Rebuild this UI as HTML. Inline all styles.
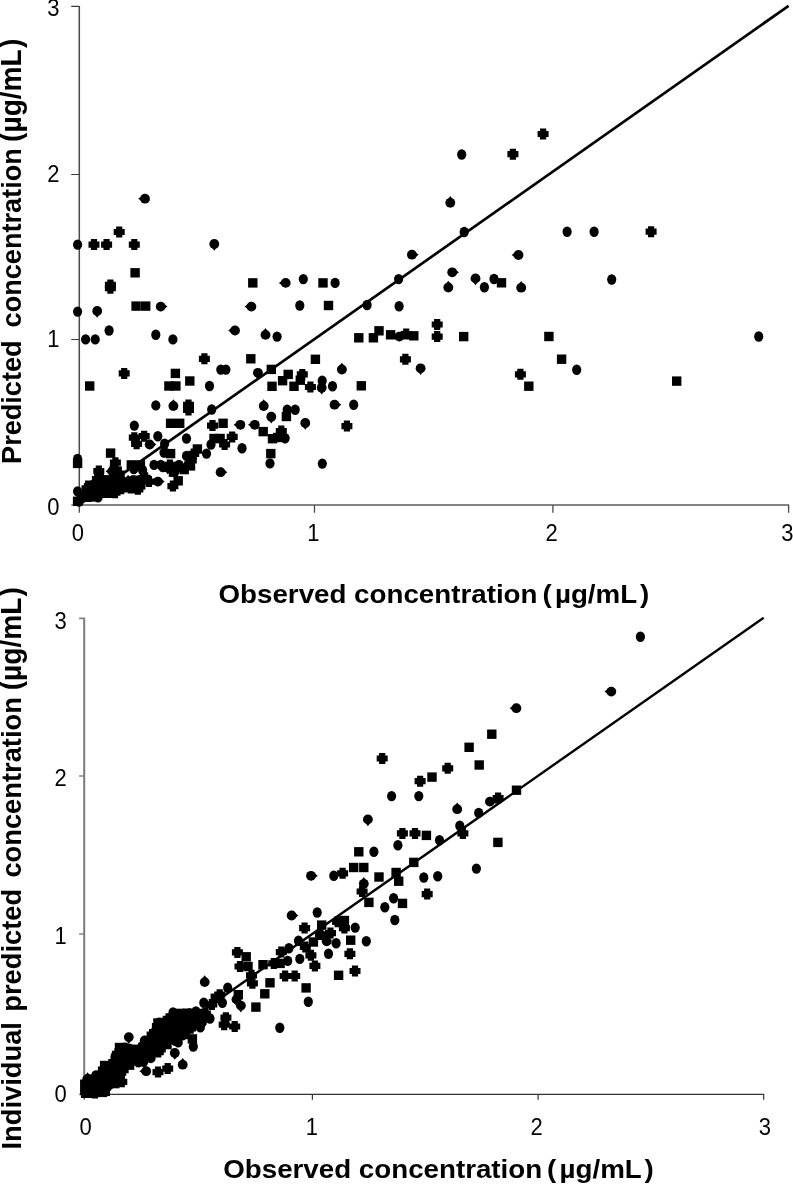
<!DOCTYPE html>
<html><head><meta charset="utf-8"><title>Predicted vs observed concentration</title>
<style>
html,body{margin:0;padding:0;background:#fff;}
body{width:793px;height:1185px;overflow:hidden;}
svg{display:block;will-change:transform;}
text{font-family:"Liberation Sans",sans-serif;fill:#000;}
.tk{font-size:22px;}
.lb{font-weight:bold;}
path{fill:none;}
.mk path{fill:#000;}
</style></head><body>
<svg width="793" height="1185" viewBox="0 0 793 1185">
<rect width="793" height="1185" fill="#fff"/>

<path stroke="#4a4a4a" stroke-width="1.5" d="M79.3 5.9V505.0"/>
<path stroke="#858585" stroke-width="2.0" d="M79.3 505.0H789.1"/>
<path stroke="#3a3a3a" stroke-width="1.1" d="M71.2 505.0H79.3M71.2 339.5H79.3M71.2 174.5H79.3M71.2 6.4H79.3"/>
<path stroke="#4a4a4a" stroke-width="1.3" d="M79.3 505.0V512.7M314.5 505.0V512.7M552.9 505.0V512.7M788.6 505.0V512.7"/>
<text class="tk" transform="translate(59.4,515.2) scale(1,1.06)" text-anchor="end">0</text>
<text class="tk" transform="translate(59.4,347.2) scale(1,1.06)" text-anchor="end">1</text>
<text class="tk" transform="translate(59.4,182.1) scale(1,1.06)" text-anchor="end">2</text>
<text class="tk" transform="translate(59.4,16.4) scale(1,1.06)" text-anchor="end">3</text>
<text class="tk" transform="translate(77.9,540.8) scale(1,1.06)" text-anchor="middle">0</text>
<text class="tk" transform="translate(313.4,540.8) scale(1,1.06)" text-anchor="middle">1</text>
<text class="tk" transform="translate(551.6,540.8) scale(1,1.06)" text-anchor="middle">2</text>
<text class="tk" transform="translate(787.4,540.8) scale(1,1.06)" text-anchor="middle">3</text>
<path stroke="#000" stroke-width="2.7" d="M79.3 504.4L788.6 5.800000000000001"/>
<g class="mk" fill="#000">
<ellipse cx="77.6" cy="244.6" rx="4.6" ry="5.2"/>
<path d="M90.9 239.1h6.2v2.4h2.4v6.2h-2.4v2.4h-6.2v-2.4h-2.4v-6.2h2.4Z"/>
<path d="M103.5 239.1h6.2v2.4h2.4v6.2h-2.4v2.4h-6.2v-2.4h-2.4v-6.2h2.4Z"/>
<path d="M116.1 226.5h6.2v2.4h2.4v6.2h-2.4v2.4h-6.2v-2.4h-2.4v-6.2h2.4Z"/>
<path d="M131.2 239.1h6.2v2.4h2.4v6.2h-2.4v2.4h-6.2v-2.4h-2.4v-6.2h2.4Z"/>
<circle cx="145.0" cy="198.7" r="4.9"/><path d="M138.2 198.7L145.0 193.8L145.0 203.6Z"/>
<circle cx="214.3" cy="244.0" r="4.9"/><path d="M214.3 250.8L209.4 244.0L219.2 244.0Z"/>
<rect x="130.4" y="268.1" width="9.4" height="9.4"/>
<path d="M107.3 279.4h6.2v2.4h2.4v6.2h-2.4v2.4h-6.2v-2.4h-2.4v-6.2h2.4Z"/>
<path d="M107.3 282.7h6.2v2.4h2.4v6.2h-2.4v2.4h-6.2v-2.4h-2.4v-6.2h2.4Z"/>
<rect x="248.1" y="278.2" width="9.4" height="9.4"/>
<circle cx="285.7" cy="282.9" r="4.9"/><path d="M278.9 282.9L285.7 278.0L285.7 287.8Z"/>
<ellipse cx="303.3" cy="279.1" rx="4.6" ry="5.2"/>
<rect x="318.3" y="278.2" width="9.4" height="9.4"/>
<ellipse cx="335.1" cy="282.9" rx="4.6" ry="5.2"/>
<circle cx="411.9" cy="254.7" r="4.9"/><path d="M418.7 254.7L411.9 259.6L411.9 249.8Z"/>
<ellipse cx="398.6" cy="279.1" rx="4.6" ry="5.2"/>
<ellipse cx="461.7" cy="154.5" rx="4.6" ry="5.2"/>
<circle cx="450.3" cy="202.8" r="4.9"/><path d="M450.3 196.0L455.2 202.8L445.4 202.8Z"/>
<ellipse cx="464.2" cy="232.0" rx="4.6" ry="5.2"/>
<circle cx="452.2" cy="272.3" r="4.9"/><path d="M459.0 272.3L452.2 277.2L452.2 267.4Z"/>
<circle cx="448.3" cy="287.5" r="4.9"/><path d="M448.3 280.7L453.2 287.5L443.4 287.5Z"/>
<path d="M509.8 148.7h6.2v2.4h2.4v6.2h-2.4v2.4h-6.2v-2.4h-2.4v-6.2h2.4Z"/>
<path d="M540.0 128.5h6.2v2.4h2.4v6.2h-2.4v2.4h-6.2v-2.4h-2.4v-6.2h2.4Z"/>
<ellipse cx="567.1" cy="231.7" rx="4.6" ry="5.2"/>
<ellipse cx="594.1" cy="231.7" rx="4.6" ry="5.2"/>
<path d="M648.0 226.2h6.2v2.4h2.4v6.2h-2.4v2.4h-6.2v-2.4h-2.4v-6.2h2.4Z"/>
<circle cx="518.5" cy="255.0" r="4.9"/><path d="M511.7 255.0L518.5 250.1L518.5 259.9Z"/>
<circle cx="475.5" cy="278.4" r="4.9"/><path d="M475.5 285.2L470.6 278.4L480.4 278.4Z"/>
<ellipse cx="484.4" cy="287.3" rx="4.6" ry="5.2"/>
<ellipse cx="494.0" cy="279.0" rx="4.6" ry="5.2"/>
<rect x="496.8" y="278.1" width="9.4" height="9.4"/>
<circle cx="521.2" cy="287.7" r="4.9"/><path d="M521.2 280.9L526.1 287.7L516.3 287.7Z"/>
<ellipse cx="611.7" cy="279.5" rx="4.6" ry="5.2"/>
<rect x="544.2" y="331.8" width="9.4" height="9.4"/>
<rect x="556.9" y="354.5" width="9.4" height="9.4"/>
<ellipse cx="576.7" cy="369.8" rx="4.6" ry="5.2"/>
<path d="M517.3 368.8h6.2v2.4h2.4v6.2h-2.4v2.4h-6.2v-2.4h-2.4v-6.2h2.4Z"/>
<rect x="524.1" y="381.5" width="9.4" height="9.4"/>
<ellipse cx="758.7" cy="336.5" rx="4.6" ry="5.2"/>
<rect x="672.0" y="376.4" width="9.4" height="9.4"/>
<ellipse cx="299.8" cy="305.5" rx="4.6" ry="5.2"/>
<rect x="323.8" y="300.8" width="9.4" height="9.4"/>
<ellipse cx="367.1" cy="305.0" rx="4.6" ry="5.2"/>
<ellipse cx="399.1" cy="306.3" rx="4.6" ry="5.2"/>
<ellipse cx="277.1" cy="336.6" rx="4.6" ry="5.2"/>
<rect x="354.1" y="333.1" width="9.4" height="9.4"/>
<rect x="368.7" y="333.1" width="9.4" height="9.4"/>
<rect x="374.3" y="326.1" width="9.4" height="9.4"/>
<rect x="385.9" y="330.1" width="9.4" height="9.4"/>
<circle cx="399.3" cy="336.6" r="4.9"/><path d="M406.1 336.6L399.3 341.5L399.3 331.7Z"/>
<path d="M403.1 328.5h6.2v2.4h2.4v6.2h-2.4v2.4h-6.2v-2.4h-2.4v-6.2h2.4Z"/>
<rect x="409.1" y="331.1" width="9.4" height="9.4"/>
<path d="M434.1 319.0h6.2v2.4h2.4v6.2h-2.4v2.4h-6.2v-2.4h-2.4v-6.2h2.4Z"/>
<path d="M434.1 331.1h6.2v2.4h2.4v6.2h-2.4v2.4h-6.2v-2.4h-2.4v-6.2h2.4Z"/>
<rect x="459.0" y="331.9" width="9.4" height="9.4"/>
<rect x="310.7" y="354.6" width="9.4" height="9.4"/>
<circle cx="341.9" cy="369.5" r="4.9"/><path d="M341.9 362.7L346.8 369.5L337.0 369.5Z"/>
<path d="M402.3 353.8h6.2v2.4h2.4v6.2h-2.4v2.4h-6.2v-2.4h-2.4v-6.2h2.4Z"/>
<circle cx="420.6" cy="368.3" r="4.9"/><path d="M420.6 375.1L415.7 368.3L425.5 368.3Z"/>
<rect x="266.6" y="364.7" width="9.4" height="9.4"/>
<rect x="283.5" y="369.7" width="9.4" height="9.4"/>
<path d="M299.2 368.9h6.2v2.4h2.4v6.2h-2.4v2.4h-6.2v-2.4h-2.4v-6.2h2.4Z"/>
<rect x="277.9" y="376.0" width="9.4" height="9.4"/>
<rect x="295.6" y="375.5" width="9.4" height="9.4"/>
<ellipse cx="322.2" cy="380.7" rx="4.6" ry="5.2"/>
<rect x="267.3" y="381.6" width="9.4" height="9.4"/>
<rect x="289.3" y="381.6" width="9.4" height="9.4"/>
<path d="M307.3 381.5h6.2v2.4h2.4v6.2h-2.4v2.4h-6.2v-2.4h-2.4v-6.2h2.4Z"/>
<circle cx="321.7" cy="387.7" r="4.9"/><path d="M321.7 394.5L316.8 387.7L326.6 387.7Z"/>
<ellipse cx="332.5" cy="386.3" rx="4.6" ry="5.2"/>
<rect x="356.6" y="381.1" width="9.4" height="9.4"/>
<circle cx="334.5" cy="404.7" r="4.9"/><path d="M341.3 404.7L334.5 409.6L334.5 399.8Z"/>
<ellipse cx="353.7" cy="404.7" rx="4.6" ry="5.2"/>
<ellipse cx="287.2" cy="409.7" rx="4.6" ry="5.2"/>
<ellipse cx="295.2" cy="409.7" rx="4.6" ry="5.2"/>
<rect x="281.7" y="411.8" width="9.4" height="9.4"/>
<circle cx="271.3" cy="416.7" r="4.9"/><path d="M271.3 423.5L266.4 416.7L276.2 416.7Z"/>
<circle cx="305.3" cy="423.0" r="4.9"/><path d="M305.3 429.8L300.4 423.0L310.2 423.0Z"/>
<path d="M343.8 420.6h6.2v2.4h2.4v6.2h-2.4v2.4h-6.2v-2.4h-2.4v-6.2h2.4Z"/>
<path d="M278.2 425.6h6.2v2.4h2.4v6.2h-2.4v2.4h-6.2v-2.4h-2.4v-6.2h2.4Z"/>
<rect x="272.9" y="432.8" width="9.4" height="9.4"/>
<ellipse cx="285.1" cy="438.2" rx="4.6" ry="5.2"/>
<rect x="267.8" y="434.0" width="9.4" height="9.4"/>
<ellipse cx="77.6" cy="311.6" rx="4.6" ry="5.2"/>
<circle cx="97.2" cy="311.0" r="4.9"/><path d="M97.2 317.8L92.3 311.0L102.1 311.0Z"/>
<rect x="131.4" y="301.4" width="9.4" height="9.4"/>
<rect x="141.0" y="301.4" width="9.4" height="9.4"/>
<circle cx="160.7" cy="306.6" r="4.9"/><path d="M167.5 306.6L160.7 311.5L160.7 301.7Z"/>
<circle cx="251.4" cy="306.6" r="4.9"/><path d="M244.6 306.6L251.4 301.7L251.4 311.5Z"/>
<ellipse cx="109.1" cy="330.5" rx="4.6" ry="5.2"/>
<ellipse cx="85.6" cy="339.4" rx="4.6" ry="5.2"/>
<ellipse cx="95.2" cy="339.4" rx="4.6" ry="5.2"/>
<ellipse cx="155.8" cy="334.8" rx="4.6" ry="5.2"/>
<ellipse cx="172.9" cy="339.4" rx="4.6" ry="5.2"/>
<circle cx="235.0" cy="330.5" r="4.9"/><path d="M228.2 330.5L235.0 325.6L235.0 335.4Z"/>
<circle cx="265.5" cy="334.9" r="4.9"/><path d="M265.5 328.1L270.4 334.9L260.6 334.9Z"/>
<path d="M201.3 353.3h6.2v2.4h2.4v6.2h-2.4v2.4h-6.2v-2.4h-2.4v-6.2h2.4Z"/>
<rect x="246.1" y="354.1" width="9.4" height="9.4"/>
<ellipse cx="220.8" cy="369.6" rx="4.6" ry="5.2"/>
<ellipse cx="225.9" cy="369.6" rx="4.6" ry="5.2"/>
<path d="M121.1 367.9h6.2v2.4h2.4v6.2h-2.4v2.4h-6.2v-2.4h-2.4v-6.2h2.4Z"/>
<rect x="170.7" y="368.7" width="9.4" height="9.4"/>
<circle cx="257.9" cy="372.8" r="4.9"/><path d="M257.9 379.6L253.0 372.8L262.8 372.8Z"/>
<rect x="85.0" y="381.3" width="9.4" height="9.4"/>
<rect x="164.2" y="381.3" width="9.4" height="9.4"/>
<rect x="171.2" y="381.3" width="9.4" height="9.4"/>
<rect x="185.1" y="376.3" width="9.4" height="9.4"/>
<ellipse cx="209.5" cy="386.0" rx="4.6" ry="5.2"/>
<ellipse cx="155.8" cy="405.4" rx="4.6" ry="5.2"/>
<circle cx="173.4" cy="406.0" r="4.9"/><path d="M173.4 399.2L178.3 406.0L168.5 406.0Z"/>
<path d="M185.4 399.4h6.2v2.4h2.4v6.2h-2.4v2.4h-6.2v-2.4h-2.4v-6.2h2.4Z"/>
<path d="M185.4 404.5h6.2v2.4h2.4v6.2h-2.4v2.4h-6.2v-2.4h-2.4v-6.2h2.4Z"/>
<ellipse cx="211.7" cy="409.5" rx="4.6" ry="5.2"/>
<circle cx="263.7" cy="406.0" r="4.9"/><path d="M263.7 399.2L268.6 406.0L258.8 406.0Z"/>
<ellipse cx="77.6" cy="458.9" rx="4.6" ry="5.2"/>
<rect x="72.9" y="458.7" width="9.4" height="9.4"/>
<ellipse cx="77.6" cy="491.4" rx="4.6" ry="5.2"/>
<rect x="72.9" y="496.6" width="9.4" height="9.4"/>
<ellipse cx="134.3" cy="425.6" rx="4.6" ry="5.2"/>
<rect x="165.9" y="418.6" width="9.4" height="9.4"/>
<rect x="175.0" y="418.6" width="9.4" height="9.4"/>
<path d="M131.2 432.2h6.2v2.4h2.4v6.2h-2.4v2.4h-6.2v-2.4h-2.4v-6.2h2.4Z"/>
<path d="M141.1 430.7h6.2v2.4h2.4v6.2h-2.4v2.4h-6.2v-2.4h-2.4v-6.2h2.4Z"/>
<ellipse cx="157.8" cy="436.2" rx="4.6" ry="5.2"/>
<path d="M133.5 438.3h6.2v2.4h2.4v6.2h-2.4v2.4h-6.2v-2.4h-2.4v-6.2h2.4Z"/>
<circle cx="149.6" cy="444.5" r="4.9"/><path d="M156.4 444.5L149.6 449.4L149.6 439.6Z"/>
<ellipse cx="164.6" cy="443.8" rx="4.6" ry="5.2"/>
<ellipse cx="186.5" cy="438.5" rx="4.6" ry="5.2"/>
<rect x="105.9" y="448.4" width="9.4" height="9.4"/>
<ellipse cx="164.6" cy="452.1" rx="4.6" ry="5.2"/>
<rect x="165.9" y="448.9" width="9.4" height="9.4"/>
<ellipse cx="186.5" cy="455.9" rx="4.6" ry="5.2"/>
<path d="M112.3 457.2h6.2v2.4h2.4v6.2h-2.4v2.4h-6.2v-2.4h-2.4v-6.2h2.4Z"/>
<rect x="126.6" y="460.2" width="9.4" height="9.4"/>
<rect x="135.7" y="460.2" width="9.4" height="9.4"/>
<ellipse cx="154.0" cy="464.9" rx="4.6" ry="5.2"/>
<ellipse cx="160.8" cy="464.9" rx="4.6" ry="5.2"/>
<path d="M166.8 459.4h6.2v2.4h2.4v6.2h-2.4v2.4h-6.2v-2.4h-2.4v-6.2h2.4Z"/>
<ellipse cx="179.0" cy="464.9" rx="4.6" ry="5.2"/>
<ellipse cx="188.0" cy="464.9" rx="4.6" ry="5.2"/>
<path d="M95.7 465.5h6.2v2.4h2.4v6.2h-2.4v2.4h-6.2v-2.4h-2.4v-6.2h2.4Z"/>
<circle cx="174.4" cy="471.9" r="4.9"/><path d="M174.4 478.7L169.5 471.9L179.3 471.9Z"/>
<circle cx="157.9" cy="481.6" r="4.9"/><path d="M164.7 481.6L157.9 486.5L157.9 476.7Z"/>
<rect x="173.5" y="476.1" width="9.4" height="9.4"/>
<path d="M169.8 480.6h6.2v2.4h2.4v6.2h-2.4v2.4h-6.2v-2.4h-2.4v-6.2h2.4Z"/>
<path d="M209.4 420.1h6.2v2.4h2.4v6.2h-2.4v2.4h-6.2v-2.4h-2.4v-6.2h2.4Z"/>
<rect x="218.4" y="418.6" width="9.4" height="9.4"/>
<circle cx="240.4" cy="424.8" r="4.9"/><path d="M233.6 424.8L240.4 419.9L240.4 429.7Z"/>
<circle cx="254.8" cy="424.8" r="4.9"/><path d="M248.0 424.8L254.8 419.9L254.8 429.7Z"/>
<rect x="209.3" y="433.8" width="9.4" height="9.4"/>
<rect x="215.4" y="433.8" width="9.4" height="9.4"/>
<path d="M229.1 431.4h6.2v2.4h2.4v6.2h-2.4v2.4h-6.2v-2.4h-2.4v-6.2h2.4Z"/>
<rect x="258.5" y="426.9" width="9.4" height="9.4"/>
<ellipse cx="211.0" cy="444.5" rx="4.6" ry="5.2"/>
<path d="M221.5 439.0h6.2v2.4h2.4v6.2h-2.4v2.4h-6.2v-2.4h-2.4v-6.2h2.4Z"/>
<ellipse cx="242.0" cy="448.3" rx="4.6" ry="5.2"/>
<rect x="192.7" y="444.3" width="9.4" height="9.4"/>
<ellipse cx="206.5" cy="453.6" rx="4.6" ry="5.2"/>
<path d="M188.2 454.9h6.2v2.4h2.4v6.2h-2.4v2.4h-6.2v-2.4h-2.4v-6.2h2.4Z"/>
<rect x="266.1" y="448.9" width="9.4" height="9.4"/>
<ellipse cx="270.0" cy="463.4" rx="4.6" ry="5.2"/>
<circle cx="220.6" cy="472.2" r="4.9"/><path d="M227.4 472.2L220.6 477.1L220.6 467.3Z"/>
<ellipse cx="322.3" cy="463.6" rx="4.6" ry="5.2"/>
<ellipse cx="164.0" cy="452.6" rx="4.6" ry="5.2"/>
<circle cx="167.8" cy="467.8" r="4.9"/><path d="M167.8 474.6L162.9 467.8L172.7 467.8Z"/>
<ellipse cx="162.8" cy="467.1" rx="4.6" ry="5.2"/>
<rect x="168.8" y="467.5" width="9.4" height="9.4"/>
<ellipse cx="180.4" cy="467.1" rx="4.6" ry="5.2"/>
<rect x="179.5" y="464.9" width="9.4" height="9.4"/>
<rect x="185.8" y="461.2" width="9.4" height="9.4"/>
<path d="M190.6 448.4h6.2v2.4h2.4v6.2h-2.4v2.4h-6.2v-2.4h-2.4v-6.2h2.4Z"/>
<path d="M145.8 476.1h6.2v2.4h2.4v6.2h-2.4v2.4h-6.2v-2.4h-2.4v-6.2h2.4Z"/>
<ellipse cx="133.8" cy="469.0" rx="4.6" ry="5.2"/>
<ellipse cx="142.6" cy="470.3" rx="4.6" ry="5.2"/>
<path d="M142.0 472.3h6.2v2.4h2.4v6.2h-2.4v2.4h-6.2v-2.4h-2.4v-6.2h2.4Z"/>
<ellipse cx="114.0" cy="467.7" rx="4.6" ry="5.2"/>
<circle cx="112.3" cy="471.3" r="4.9"/><path d="M105.5 471.3L112.3 466.4L112.3 476.2Z"/>
<rect x="112.5" y="466.4" width="9.4" height="9.4"/>
<circle cx="98.9" cy="474.1" r="4.9"/><path d="M98.9 480.9L94.0 474.1L103.8 474.1Z"/>
<ellipse cx="114.6" cy="476.2" rx="4.6" ry="5.2"/>
<rect x="115.4" y="470.5" width="9.4" height="9.4"/>
<path d="M94.3 473.7h6.2v2.4h2.4v6.2h-2.4v2.4h-6.2v-2.4h-2.4v-6.2h2.4Z"/>
<ellipse cx="101.3" cy="479.1" rx="4.6" ry="5.2"/>
<rect x="103.4" y="475.1" width="9.4" height="9.4"/>
<rect x="108.5" y="475.8" width="9.4" height="9.4"/>
<rect x="113.0" y="476.2" width="9.4" height="9.4"/>
<circle cx="121.3" cy="480.4" r="4.9"/><path d="M128.1 480.4L121.3 485.3L121.3 475.5Z"/>
<circle cx="128.1" cy="481.5" r="4.9"/><path d="M128.1 474.7L133.0 481.5L123.2 481.5Z"/>
<ellipse cx="132.9" cy="480.1" rx="4.6" ry="5.2"/>
<path d="M133.5 475.5h6.2v2.4h2.4v6.2h-2.4v2.4h-6.2v-2.4h-2.4v-6.2h2.4Z"/>
<circle cx="140.9" cy="479.7" r="4.9"/><path d="M147.7 479.7L140.9 484.6L140.9 474.8Z"/>
<rect x="85.0" y="480.5" width="9.4" height="9.4"/>
<circle cx="94.3" cy="484.0" r="4.9"/><path d="M94.3 490.8L89.4 484.0L99.2 484.0Z"/>
<ellipse cx="100.4" cy="484.4" rx="4.6" ry="5.2"/>
<circle cx="104.7" cy="485.5" r="4.9"/><path d="M104.7 478.7L109.6 485.5L99.8 485.5Z"/>
<path d="M106.4 478.2h6.2v2.4h2.4v6.2h-2.4v2.4h-6.2v-2.4h-2.4v-6.2h2.4Z"/>
<ellipse cx="113.9" cy="484.7" rx="4.6" ry="5.2"/>
<circle cx="120.3" cy="483.8" r="4.9"/><path d="M120.3 490.6L115.4 483.8L125.2 483.8Z"/>
<circle cx="123.9" cy="484.9" r="4.9"/><path d="M130.7 484.9L123.9 489.8L123.9 480.0Z"/>
<circle cx="128.8" cy="484.2" r="4.9"/><path d="M128.8 491.0L123.9 484.2L133.7 484.2Z"/>
<rect x="130.3" y="479.0" width="9.4" height="9.4"/>
<rect x="136.0" y="480.2" width="9.4" height="9.4"/>
<path d="M83.9 482.9h6.2v2.4h2.4v6.2h-2.4v2.4h-6.2v-2.4h-2.4v-6.2h2.4Z"/>
<ellipse cx="92.1" cy="488.3" rx="4.6" ry="5.2"/>
<rect x="92.3" y="484.7" width="9.4" height="9.4"/>
<circle cx="101.7" cy="488.9" r="4.9"/><path d="M108.5 488.9L101.7 493.8L101.7 484.0Z"/>
<path d="M105.0 483.2h6.2v2.4h2.4v6.2h-2.4v2.4h-6.2v-2.4h-2.4v-6.2h2.4Z"/>
<circle cx="112.4" cy="488.7" r="4.9"/><path d="M112.4 481.9L117.3 488.7L107.5 488.7Z"/>
<path d="M114.1 482.9h6.2v2.4h2.4v6.2h-2.4v2.4h-6.2v-2.4h-2.4v-6.2h2.4Z"/>
<path d="M118.1 483.3h6.2v2.4h2.4v6.2h-2.4v2.4h-6.2v-2.4h-2.4v-6.2h2.4Z"/>
<rect x="122.4" y="483.1" width="9.4" height="9.4"/>
<rect x="127.8" y="484.1" width="9.4" height="9.4"/>
<path d="M134.8 483.8h6.2v2.4h2.4v6.2h-2.4v2.4h-6.2v-2.4h-2.4v-6.2h2.4Z"/>
<ellipse cx="83.8" cy="494.0" rx="4.6" ry="5.2"/>
<ellipse cx="88.9" cy="492.1" rx="4.6" ry="5.2"/>
<path d="M92.1 487.1h6.2v2.4h2.4v6.2h-2.4v2.4h-6.2v-2.4h-2.4v-6.2h2.4Z"/>
<path d="M95.8 487.8h6.2v2.4h2.4v6.2h-2.4v2.4h-6.2v-2.4h-2.4v-6.2h2.4Z"/>
<path d="M101.2 486.9h6.2v2.4h2.4v6.2h-2.4v2.4h-6.2v-2.4h-2.4v-6.2h2.4Z"/>
<path d="M106.7 486.9h6.2v2.4h2.4v6.2h-2.4v2.4h-6.2v-2.4h-2.4v-6.2h2.4Z"/>
<path d="M111.9 487.2h6.2v2.4h2.4v6.2h-2.4v2.4h-6.2v-2.4h-2.4v-6.2h2.4Z"/>
<path d="M79.1 491.2h6.2v2.4h2.4v6.2h-2.4v2.4h-6.2v-2.4h-2.4v-6.2h2.4Z"/>
<rect x="82.3" y="492.6" width="9.4" height="9.4"/>
<rect x="87.0" y="492.2" width="9.4" height="9.4"/>
<ellipse cx="98.1" cy="497.3" rx="4.6" ry="5.2"/>
<ellipse cx="79.2" cy="501.6" rx="4.6" ry="5.2"/>
</g>
<text class="lb" font-size="27.1" transform="translate(21.2,462.1) rotate(-90)"><tspan x="-1.8">Predicted</tspan><tspan x="127.2"> concentration</tspan></text>
<text class="lb" font-size="28.1" transform="translate(21.2,462.1) rotate(-90) scale(1,1.05)"><tspan x="320.2">(µg/mL</tspan><tspan x="414.2">)</tspan></text>
<text class="lb" font-size="27.75" transform="translate(0,602.6) scale(1,0.95)"><tspan x="218.5">Observed concentration</tspan><tspan x="534.7"> (</tspan><tspan x="554.9">µg/mL</tspan><tspan x="639.9">)</tspan></text>
<path stroke="#7a7a7a" stroke-width="2.0" d="M84.2 617.8V1094.4"/>
<path stroke="#333" stroke-width="1.1" d="M84.2 1094.4H764.2"/>
<path stroke="#858585" stroke-width="1.7" d="M79.1 1094.4H84.2M79.1 934.0H84.2M79.1 776.0H84.2M79.1 618.3H84.2"/>
<path stroke="#333" stroke-width="1.2" d="M84.2 1094.4V1099.7M312.4 1094.4V1099.7M538.1 1094.4V1099.7M763.7 1094.4V1099.7"/>
<text class="tk" transform="translate(66.8,1102.1) scale(1,1.06)" text-anchor="end">0</text>
<text class="tk" transform="translate(66.8,944.2) scale(1,1.06)" text-anchor="end">1</text>
<text class="tk" transform="translate(66.8,786.3) scale(1,1.06)" text-anchor="end">2</text>
<text class="tk" transform="translate(66.8,628.7) scale(1,1.06)" text-anchor="end">3</text>
<text class="tk" transform="translate(85.5,1134.8) scale(1,1.06)" text-anchor="middle">0</text>
<text class="tk" transform="translate(311.8,1134.8) scale(1,1.06)" text-anchor="middle">1</text>
<text class="tk" transform="translate(536.6,1134.8) scale(1,1.06)" text-anchor="middle">2</text>
<text class="tk" transform="translate(764.9,1134.8) scale(1,1.06)" text-anchor="middle">3</text>
<path stroke="#000" stroke-width="2.4" d="M84.2 1093.8000000000002L763.7 617.6999999999999"/>
<g class="mk" fill="#000">
<ellipse cx="640.4" cy="636.7" rx="4.6" ry="5.2"/>
<circle cx="611.3" cy="691.6" r="4.9"/><path d="M604.5 691.6L611.3 686.7L611.3 696.5Z"/>
<circle cx="516.4" cy="708.2" r="4.9"/><path d="M509.6 708.2L516.4 703.3L516.4 713.1Z"/>
<rect x="487.1" y="729.5" width="9.4" height="9.4"/>
<rect x="464.4" y="742.6" width="9.4" height="9.4"/>
<rect x="474.5" y="760.3" width="9.4" height="9.4"/>
<path d="M444.6 762.8h6.2v2.4h2.4v6.2h-2.4v2.4h-6.2v-2.4h-2.4v-6.2h2.4Z"/>
<rect x="427.3" y="772.4" width="9.4" height="9.4"/>
<rect x="511.8" y="785.5" width="9.4" height="9.4"/>
<path d="M495.0 792.5h6.2v2.4h2.4v6.2h-2.4v2.4h-6.2v-2.4h-2.4v-6.2h2.4Z"/>
<circle cx="489.9" cy="801.6" r="4.9"/><path d="M496.7 801.6L489.9 806.5L489.9 796.7Z"/>
<circle cx="457.2" cy="809.2" r="4.9"/><path d="M457.2 802.4L462.1 809.2L452.3 809.2Z"/>
<ellipse cx="478.7" cy="812.9" rx="4.6" ry="5.2"/>
<ellipse cx="459.8" cy="825.8" rx="4.6" ry="5.2"/>
<path d="M379.1 753.0h6.2v2.4h2.4v6.2h-2.4v2.4h-6.2v-2.4h-2.4v-6.2h2.4Z"/>
<path d="M417.0 775.7h6.2v2.4h2.4v6.2h-2.4v2.4h-6.2v-2.4h-2.4v-6.2h2.4Z"/>
<ellipse cx="391.6" cy="796.1" rx="4.6" ry="5.2"/>
<ellipse cx="418.8" cy="796.1" rx="4.6" ry="5.2"/>
<circle cx="367.9" cy="819.4" r="4.9"/><path d="M367.9 826.2L363.0 819.4L372.8 819.4Z"/>
<path d="M459.8 827.9h6.2v2.4h2.4v6.2h-2.4v2.4h-6.2v-2.4h-2.4v-6.2h2.4Z"/>
<path d="M399.3 827.9h6.2v2.4h2.4v6.2h-2.4v2.4h-6.2v-2.4h-2.4v-6.2h2.4Z"/>
<path d="M411.9 827.9h6.2v2.4h2.4v6.2h-2.4v2.4h-6.2v-2.4h-2.4v-6.2h2.4Z"/>
<rect x="421.7" y="830.7" width="9.4" height="9.4"/>
<ellipse cx="439.5" cy="840.2" rx="4.6" ry="5.2"/>
<ellipse cx="397.9" cy="845.3" rx="4.6" ry="5.2"/>
<rect x="354.1" y="847.1" width="9.4" height="9.4"/>
<ellipse cx="373.9" cy="851.8" rx="4.6" ry="5.2"/>
<rect x="409.1" y="857.7" width="9.4" height="9.4"/>
<rect x="349.0" y="862.8" width="9.4" height="9.4"/>
<rect x="359.1" y="862.8" width="9.4" height="9.4"/>
<rect x="391.4" y="867.8" width="9.4" height="9.4"/>
<circle cx="311.0" cy="875.8" r="4.9"/><path d="M317.8 875.8L311.0 880.7L311.0 870.9Z"/>
<ellipse cx="333.8" cy="875.8" rx="4.6" ry="5.2"/>
<path d="M339.5 867.8h6.2v2.4h2.4v6.2h-2.4v2.4h-6.2v-2.4h-2.4v-6.2h2.4Z"/>
<rect x="374.3" y="872.3" width="9.4" height="9.4"/>
<ellipse cx="423.8" cy="877.5" rx="4.6" ry="5.2"/>
<ellipse cx="437.7" cy="876.3" rx="4.6" ry="5.2"/>
<rect x="493.2" y="837.7" width="9.4" height="9.4"/>
<ellipse cx="476.4" cy="868.6" rx="4.6" ry="5.2"/>
<path d="M424.1 888.6h6.2v2.4h2.4v6.2h-2.4v2.4h-6.2v-2.4h-2.4v-6.2h2.4Z"/>
<rect x="397.8" y="898.7" width="9.4" height="9.4"/>
<rect x="394.0" y="876.5" width="9.4" height="9.4"/>
<circle cx="363.8" cy="883.8" r="4.9"/><path d="M363.8 877.0L368.7 883.8L358.9 883.8Z"/>
<path d="M359.0 886.0h6.2v2.4h2.4v6.2h-2.4v2.4h-6.2v-2.4h-2.4v-6.2h2.4Z"/>
<rect x="364.2" y="897.7" width="9.4" height="9.4"/>
<ellipse cx="393.6" cy="898.3" rx="4.6" ry="5.2"/>
<ellipse cx="384.8" cy="907.2" rx="4.6" ry="5.2"/>
<ellipse cx="394.8" cy="920.0" rx="4.6" ry="5.2"/>
<circle cx="291.6" cy="915.5" r="4.9"/><path d="M298.4 915.5L291.6 920.4L291.6 910.6Z"/>
<ellipse cx="317.2" cy="912.5" rx="4.6" ry="5.2"/>
<path d="M301.5 922.6h6.2v2.4h2.4v6.2h-2.4v2.4h-6.2v-2.4h-2.4v-6.2h2.4Z"/>
<rect x="317.0" y="920.4" width="9.4" height="9.4"/>
<path d="M334.5 916.3h6.2v2.4h2.4v6.2h-2.4v2.4h-6.2v-2.4h-2.4v-6.2h2.4Z"/>
<rect x="339.7" y="915.8" width="9.4" height="9.4"/>
<path d="M341.3 922.6h6.2v2.4h2.4v6.2h-2.4v2.4h-6.2v-2.4h-2.4v-6.2h2.4Z"/>
<ellipse cx="355.2" cy="927.6" rx="4.6" ry="5.2"/>
<path d="M317.3 928.9h6.2v2.4h2.4v6.2h-2.4v2.4h-6.2v-2.4h-2.4v-6.2h2.4Z"/>
<path d="M327.4 927.6h6.2v2.4h2.4v6.2h-2.4v2.4h-6.2v-2.4h-2.4v-6.2h2.4Z"/>
<circle cx="326.7" cy="941.3" r="4.9"/><path d="M326.7 934.5L331.6 941.3L321.8 941.3Z"/>
<ellipse cx="336.1" cy="943.2" rx="4.6" ry="5.2"/>
<rect x="308.7" y="937.3" width="9.4" height="9.4"/>
<rect x="346.0" y="935.5" width="9.4" height="9.4"/>
<ellipse cx="366.3" cy="941.2" rx="4.6" ry="5.2"/>
<ellipse cx="298.5" cy="940.7" rx="4.6" ry="5.2"/>
<path d="M302.2 941.5h6.2v2.4h2.4v6.2h-2.4v2.4h-6.2v-2.4h-2.4v-6.2h2.4Z"/>
<ellipse cx="288.9" cy="948.3" rx="4.6" ry="5.2"/>
<path d="M278.2 946.6h6.2v2.4h2.4v6.2h-2.4v2.4h-6.2v-2.4h-2.4v-6.2h2.4Z"/>
<path d="M307.8 949.8h6.2v2.4h2.4v6.2h-2.4v2.4h-6.2v-2.4h-2.4v-6.2h2.4Z"/>
<ellipse cx="328.5" cy="953.8" rx="4.6" ry="5.2"/>
<path d="M346.8 948.3h6.2v2.4h2.4v6.2h-2.4v2.4h-6.2v-2.4h-2.4v-6.2h2.4Z"/>
<ellipse cx="299.8" cy="958.9" rx="4.6" ry="5.2"/>
<ellipse cx="287.7" cy="960.9" rx="4.6" ry="5.2"/>
<path d="M270.7 957.9h6.2v2.4h2.4v6.2h-2.4v2.4h-6.2v-2.4h-2.4v-6.2h2.4Z"/>
<rect x="275.4" y="958.7" width="9.4" height="9.4"/>
<path d="M311.8 960.4h6.2v2.4h2.4v6.2h-2.4v2.4h-6.2v-2.4h-2.4v-6.2h2.4Z"/>
<path d="M351.9 965.5h6.2v2.4h2.4v6.2h-2.4v2.4h-6.2v-2.4h-2.4v-6.2h2.4Z"/>
<rect x="333.9" y="970.6" width="9.4" height="9.4"/>
<path d="M282.0 970.5h6.2v2.4h2.4v6.2h-2.4v2.4h-6.2v-2.4h-2.4v-6.2h2.4Z"/>
<path d="M291.6 970.5h6.2v2.4h2.4v6.2h-2.4v2.4h-6.2v-2.4h-2.4v-6.2h2.4Z"/>
<rect x="265.3" y="978.1" width="9.4" height="9.4"/>
<rect x="301.4" y="983.2" width="9.4" height="9.4"/>
<ellipse cx="308.3" cy="1001.7" rx="4.6" ry="5.2"/>
<path d="M234.3 946.9h6.2v2.4h2.4v6.2h-2.4v2.4h-6.2v-2.4h-2.4v-6.2h2.4Z"/>
<rect x="241.5" y="952.1" width="9.4" height="9.4"/>
<path d="M236.9 961.0h6.2v2.4h2.4v6.2h-2.4v2.4h-6.2v-2.4h-2.4v-6.2h2.4Z"/>
<rect x="243.3" y="961.8" width="9.4" height="9.4"/>
<rect x="258.3" y="960.0" width="9.4" height="9.4"/>
<path d="M248.4 969.8h6.2v2.4h2.4v6.2h-2.4v2.4h-6.2v-2.4h-2.4v-6.2h2.4Z"/>
<path d="M249.3 977.8h6.2v2.4h2.4v6.2h-2.4v2.4h-6.2v-2.4h-2.4v-6.2h2.4Z"/>
<circle cx="204.7" cy="982.1" r="4.9"/><path d="M204.7 975.3L209.6 982.1L199.8 982.1Z"/>
<rect x="260.1" y="989.1" width="9.4" height="9.4"/>
<ellipse cx="227.7" cy="987.7" rx="4.6" ry="5.2"/>
<rect x="233.6" y="990.0" width="9.4" height="9.4"/>
<path d="M216.6 989.2h6.2v2.4h2.4v6.2h-2.4v2.4h-6.2v-2.4h-2.4v-6.2h2.4Z"/>
<rect x="210.6" y="993.6" width="9.4" height="9.4"/>
<ellipse cx="222.4" cy="1002.7" rx="4.6" ry="5.2"/>
<ellipse cx="203.8" cy="1002.7" rx="4.6" ry="5.2"/>
<path d="M208.7 998.9h6.2v2.4h2.4v6.2h-2.4v2.4h-6.2v-2.4h-2.4v-6.2h2.4Z"/>
<circle cx="236.5" cy="999.4" r="4.9"/><path d="M236.5 1006.2L231.6 999.4L241.4 999.4Z"/>
<circle cx="240.9" cy="1005.6" r="4.9"/><path d="M240.9 1012.4L236.0 1005.6L245.8 1005.6Z"/>
<rect x="251.2" y="1002.4" width="9.4" height="9.4"/>
<ellipse cx="279.8" cy="1027.7" rx="4.6" ry="5.2"/>
<ellipse cx="195.9" cy="1011.5" rx="4.6" ry="5.2"/>
<path d="M190.2 1011.3h6.2v2.4h2.4v6.2h-2.4v2.4h-6.2v-2.4h-2.4v-6.2h2.4Z"/>
<ellipse cx="173.0" cy="1012.4" rx="4.6" ry="5.2"/>
<path d="M198.1 1012.2h6.2v2.4h2.4v6.2h-2.4v2.4h-6.2v-2.4h-2.4v-6.2h2.4Z"/>
<ellipse cx="210.0" cy="1018.6" rx="4.6" ry="5.2"/>
<path d="M222.8 1012.2h6.2v2.4h2.4v6.2h-2.4v2.4h-6.2v-2.4h-2.4v-6.2h2.4Z"/>
<path d="M221.1 1019.2h6.2v2.4h2.4v6.2h-2.4v2.4h-6.2v-2.4h-2.4v-6.2h2.4Z"/>
<path d="M231.6 1021.0h6.2v2.4h2.4v6.2h-2.4v2.4h-6.2v-2.4h-2.4v-6.2h2.4Z"/>
<ellipse cx="200.3" cy="1027.4" rx="4.6" ry="5.2"/>
<rect x="153.2" y="1018.3" width="9.4" height="9.4"/>
<path d="M166.3 1013.9h6.2v2.4h2.4v6.2h-2.4v2.4h-6.2v-2.4h-2.4v-6.2h2.4Z"/>
<ellipse cx="181.8" cy="1018.6" rx="4.6" ry="5.2"/>
<path d="M169.9 1021.0h6.2v2.4h2.4v6.2h-2.4v2.4h-6.2v-2.4h-2.4v-6.2h2.4Z"/>
<circle cx="185.9" cy="1026.5" r="4.9"/><path d="M179.1 1026.5L185.9 1021.6L185.9 1031.4Z"/>
<path d="M187.5 1022.8h6.2v2.4h2.4v6.2h-2.4v2.4h-6.2v-2.4h-2.4v-6.2h2.4Z"/>
<path d="M150.4 1029.8h6.2v2.4h2.4v6.2h-2.4v2.4h-6.2v-2.4h-2.4v-6.2h2.4Z"/>
<ellipse cx="162.4" cy="1035.3" rx="4.6" ry="5.2"/>
<rect x="168.3" y="1030.6" width="9.4" height="9.4"/>
<ellipse cx="182.7" cy="1035.3" rx="4.6" ry="5.2"/>
<rect x="187.7" y="1034.2" width="9.4" height="9.4"/>
<rect x="154.1" y="1037.7" width="9.4" height="9.4"/>
<ellipse cx="178.2" cy="1042.4" rx="4.6" ry="5.2"/>
<circle cx="128.8" cy="1037.1" r="4.9"/><path d="M128.8 1043.9L123.9 1037.1L133.7 1037.1Z"/>
<circle cx="174.8" cy="1053.0" r="4.9"/><path d="M174.8 1059.8L169.9 1053.0L179.7 1053.0Z"/>
<circle cx="182.7" cy="1064.7" r="4.9"/><path d="M182.7 1057.9L187.6 1064.7L177.8 1064.7Z"/>
<path d="M164.6 1063.1h6.2v2.4h2.4v6.2h-2.4v2.4h-6.2v-2.4h-2.4v-6.2h2.4Z"/>
<path d="M154.9 1066.6h6.2v2.4h2.4v6.2h-2.4v2.4h-6.2v-2.4h-2.4v-6.2h2.4Z"/>
<circle cx="146.2" cy="1071.2" r="4.9"/><path d="M139.4 1071.2L146.2 1066.3L146.2 1076.1Z"/>
<ellipse cx="193.3" cy="1046.5" rx="4.6" ry="5.2"/>
<path d="M118.7 1076.3h6.2v2.4h2.4v6.2h-2.4v2.4h-6.2v-2.4h-2.4v-6.2h2.4Z"/>
<rect x="97.7" y="1087.7" width="9.4" height="9.4"/>
<rect x="88.0" y="1086.8" width="9.4" height="9.4"/>
<path d="M82.5 1082.5h6.2v2.4h2.4v6.2h-2.4v2.4h-6.2v-2.4h-2.4v-6.2h2.4Z"/>
<path d="M82.5 1077.2h6.2v2.4h2.4v6.2h-2.4v2.4h-6.2v-2.4h-2.4v-6.2h2.4Z"/>
<rect x="86.2" y="1074.5" width="9.4" height="9.4"/>
<rect x="80.9" y="1088.6" width="9.4" height="9.4"/>
<ellipse cx="176.2" cy="1014.6" rx="4.6" ry="5.2"/>
<rect x="174.8" y="1008.7" width="9.4" height="9.4"/>
<path d="M182.7 1008.5h6.2v2.4h2.4v6.2h-2.4v2.4h-6.2v-2.4h-2.4v-6.2h2.4Z"/>
<ellipse cx="189.8" cy="1013.1" rx="4.6" ry="5.2"/>
<circle cx="196.1" cy="1013.0" r="4.9"/><path d="M189.3 1013.0L196.1 1008.1L196.1 1017.9Z"/>
<path d="M197.5 1008.8h6.2v2.4h2.4v6.2h-2.4v2.4h-6.2v-2.4h-2.4v-6.2h2.4Z"/>
<path d="M202.3 1008.1h6.2v2.4h2.4v6.2h-2.4v2.4h-6.2v-2.4h-2.4v-6.2h2.4Z"/>
<path d="M165.5 1013.3h6.2v2.4h2.4v6.2h-2.4v2.4h-6.2v-2.4h-2.4v-6.2h2.4Z"/>
<circle cx="172.7" cy="1017.1" r="4.9"/><path d="M172.7 1023.9L167.8 1017.1L177.6 1017.1Z"/>
<rect x="172.9" y="1014.1" width="9.4" height="9.4"/>
<ellipse cx="182.9" cy="1017.5" rx="4.6" ry="5.2"/>
<path d="M184.1 1011.9h6.2v2.4h2.4v6.2h-2.4v2.4h-6.2v-2.4h-2.4v-6.2h2.4Z"/>
<rect x="189.1" y="1013.7" width="9.4" height="9.4"/>
<circle cx="198.8" cy="1018.5" r="4.9"/><path d="M198.8 1011.7L203.7 1018.5L193.9 1018.5Z"/>
<path d="M200.2 1013.4h6.2v2.4h2.4v6.2h-2.4v2.4h-6.2v-2.4h-2.4v-6.2h2.4Z"/>
<circle cx="209.0" cy="1017.8" r="4.9"/><path d="M202.2 1017.8L209.0 1012.9L209.0 1022.7Z"/>
<circle cx="159.6" cy="1022.3" r="4.9"/><path d="M159.6 1029.1L154.7 1022.3L164.5 1022.3Z"/>
<path d="M162.5 1016.4h6.2v2.4h2.4v6.2h-2.4v2.4h-6.2v-2.4h-2.4v-6.2h2.4Z"/>
<path d="M168.0 1016.9h6.2v2.4h2.4v6.2h-2.4v2.4h-6.2v-2.4h-2.4v-6.2h2.4Z"/>
<circle cx="175.6" cy="1021.7" r="4.9"/><path d="M175.6 1028.5L170.7 1021.7L180.5 1021.7Z"/>
<circle cx="180.6" cy="1022.9" r="4.9"/><path d="M173.8 1022.9L180.6 1018.0L180.6 1027.8Z"/>
<path d="M182.2 1016.3h6.2v2.4h2.4v6.2h-2.4v2.4h-6.2v-2.4h-2.4v-6.2h2.4Z"/>
<path d="M187.8 1017.6h6.2v2.4h2.4v6.2h-2.4v2.4h-6.2v-2.4h-2.4v-6.2h2.4Z"/>
<path d="M192.7 1016.9h6.2v2.4h2.4v6.2h-2.4v2.4h-6.2v-2.4h-2.4v-6.2h2.4Z"/>
<circle cx="201.8" cy="1022.8" r="4.9"/><path d="M195.0 1022.8L201.8 1017.9L201.8 1027.7Z"/>
<path d="M154.3 1020.7h6.2v2.4h2.4v6.2h-2.4v2.4h-6.2v-2.4h-2.4v-6.2h2.4Z"/>
<ellipse cx="163.7" cy="1027.0" rx="4.6" ry="5.2"/>
<ellipse cx="168.4" cy="1026.4" rx="4.6" ry="5.2"/>
<ellipse cx="173.6" cy="1026.1" rx="4.6" ry="5.2"/>
<path d="M173.8 1021.6h6.2v2.4h2.4v6.2h-2.4v2.4h-6.2v-2.4h-2.4v-6.2h2.4Z"/>
<ellipse cx="183.0" cy="1027.1" rx="4.6" ry="5.2"/>
<path d="M185.2 1020.5h6.2v2.4h2.4v6.2h-2.4v2.4h-6.2v-2.4h-2.4v-6.2h2.4Z"/>
<ellipse cx="192.3" cy="1026.2" rx="4.6" ry="5.2"/>
<ellipse cx="155.1" cy="1031.5" rx="4.6" ry="5.2"/>
<rect x="154.7" y="1026.1" width="9.4" height="9.4"/>
<ellipse cx="165.6" cy="1030.3" rx="4.6" ry="5.2"/>
<ellipse cx="169.3" cy="1031.6" rx="4.6" ry="5.2"/>
<rect x="170.3" y="1025.7" width="9.4" height="9.4"/>
<ellipse cx="180.8" cy="1031.1" rx="4.6" ry="5.2"/>
<rect x="180.4" y="1025.5" width="9.4" height="9.4"/>
<path d="M149.0 1029.0h6.2v2.4h2.4v6.2h-2.4v2.4h-6.2v-2.4h-2.4v-6.2h2.4Z"/>
<ellipse cx="158.7" cy="1035.7" rx="4.6" ry="5.2"/>
<path d="M159.3 1029.9h6.2v2.4h2.4v6.2h-2.4v2.4h-6.2v-2.4h-2.4v-6.2h2.4Z"/>
<ellipse cx="167.7" cy="1036.0" rx="4.6" ry="5.2"/>
<rect x="168.9" y="1031.3" width="9.4" height="9.4"/>
<path d="M174.6 1029.4h6.2v2.4h2.4v6.2h-2.4v2.4h-6.2v-2.4h-2.4v-6.2h2.4Z"/>
<rect x="178.8" y="1029.8" width="9.4" height="9.4"/>
<circle cx="144.7" cy="1040.4" r="4.9"/><path d="M151.5 1040.4L144.7 1045.3L144.7 1035.5Z"/>
<path d="M147.2 1033.6h6.2v2.4h2.4v6.2h-2.4v2.4h-6.2v-2.4h-2.4v-6.2h2.4Z"/>
<circle cx="154.8" cy="1039.4" r="4.9"/><path d="M154.8 1046.2L149.9 1039.4L159.7 1039.4Z"/>
<rect x="155.9" y="1035.5" width="9.4" height="9.4"/>
<rect x="160.9" y="1034.6" width="9.4" height="9.4"/>
<rect x="164.9" y="1034.3" width="9.4" height="9.4"/>
<ellipse cx="175.3" cy="1040.8" rx="4.6" ry="5.2"/>
<circle cx="144.4" cy="1043.6" r="4.9"/><path d="M137.6 1043.6L144.4 1038.7L144.4 1048.5Z"/>
<rect x="142.2" y="1038.6" width="9.4" height="9.4"/>
<path d="M149.9 1039.3h6.2v2.4h2.4v6.2h-2.4v2.4h-6.2v-2.4h-2.4v-6.2h2.4Z"/>
<ellipse cx="157.3" cy="1044.0" rx="4.6" ry="5.2"/>
<rect x="157.4" y="1039.2" width="9.4" height="9.4"/>
<rect x="162.3" y="1039.9" width="9.4" height="9.4"/>
<rect x="114.8" y="1042.8" width="9.4" height="9.4"/>
<circle cx="125.1" cy="1047.5" r="4.9"/><path d="M118.3 1047.5L125.1 1042.6L125.1 1052.4Z"/>
<circle cx="129.6" cy="1048.6" r="4.9"/><path d="M136.4 1048.6L129.6 1053.5L129.6 1043.7Z"/>
<rect x="130.0" y="1044.6" width="9.4" height="9.4"/>
<ellipse cx="140.8" cy="1048.4" rx="4.6" ry="5.2"/>
<circle cx="146.1" cy="1047.6" r="4.9"/><path d="M139.3 1047.6L146.1 1042.7L146.1 1052.5Z"/>
<ellipse cx="151.2" cy="1048.7" rx="4.6" ry="5.2"/>
<ellipse cx="155.6" cy="1048.5" rx="4.6" ry="5.2"/>
<path d="M157.2 1043.8h6.2v2.4h2.4v6.2h-2.4v2.4h-6.2v-2.4h-2.4v-6.2h2.4Z"/>
<path d="M114.3 1048.3h6.2v2.4h2.4v6.2h-2.4v2.4h-6.2v-2.4h-2.4v-6.2h2.4Z"/>
<circle cx="123.0" cy="1053.6" r="4.9"/><path d="M116.2 1053.6L123.0 1048.7L123.0 1058.5Z"/>
<ellipse cx="127.0" cy="1052.5" rx="4.6" ry="5.2"/>
<circle cx="134.0" cy="1052.0" r="4.9"/><path d="M127.2 1052.0L134.0 1047.1L134.0 1056.9Z"/>
<ellipse cx="137.7" cy="1053.6" rx="4.6" ry="5.2"/>
<path d="M138.7 1046.4h6.2v2.4h2.4v6.2h-2.4v2.4h-6.2v-2.4h-2.4v-6.2h2.4Z"/>
<circle cx="148.7" cy="1052.6" r="4.9"/><path d="M148.7 1045.8L153.6 1052.6L143.8 1052.6Z"/>
<circle cx="151.6" cy="1053.0" r="4.9"/><path d="M158.4 1053.0L151.6 1057.9L151.6 1048.1Z"/>
<path d="M155.1 1046.6h6.2v2.4h2.4v6.2h-2.4v2.4h-6.2v-2.4h-2.4v-6.2h2.4Z"/>
<ellipse cx="115.1" cy="1056.4" rx="4.6" ry="5.2"/>
<path d="M116.4 1051.9h6.2v2.4h2.4v6.2h-2.4v2.4h-6.2v-2.4h-2.4v-6.2h2.4Z"/>
<ellipse cx="125.6" cy="1058.1" rx="4.6" ry="5.2"/>
<ellipse cx="129.3" cy="1057.5" rx="4.6" ry="5.2"/>
<path d="M132.6 1051.7h6.2v2.4h2.4v6.2h-2.4v2.4h-6.2v-2.4h-2.4v-6.2h2.4Z"/>
<path d="M138.1 1051.0h6.2v2.4h2.4v6.2h-2.4v2.4h-6.2v-2.4h-2.4v-6.2h2.4Z"/>
<circle cx="144.2" cy="1057.3" r="4.9"/><path d="M151.0 1057.3L144.2 1062.2L144.2 1052.4Z"/>
<circle cx="150.7" cy="1058.3" r="4.9"/><path d="M150.7 1051.5L155.6 1058.3L145.8 1058.3Z"/>
<path d="M110.6 1056.7h6.2v2.4h2.4v6.2h-2.4v2.4h-6.2v-2.4h-2.4v-6.2h2.4Z"/>
<path d="M114.5 1055.4h6.2v2.4h2.4v6.2h-2.4v2.4h-6.2v-2.4h-2.4v-6.2h2.4Z"/>
<ellipse cx="122.9" cy="1061.9" rx="4.6" ry="5.2"/>
<ellipse cx="128.0" cy="1062.2" rx="4.6" ry="5.2"/>
<rect x="127.2" y="1056.2" width="9.4" height="9.4"/>
<ellipse cx="138.4" cy="1062.3" rx="4.6" ry="5.2"/>
<ellipse cx="143.6" cy="1061.9" rx="4.6" ry="5.2"/>
<rect x="99.9" y="1060.8" width="9.4" height="9.4"/>
<path d="M107.6 1061.2h6.2v2.4h2.4v6.2h-2.4v2.4h-6.2v-2.4h-2.4v-6.2h2.4Z"/>
<ellipse cx="115.2" cy="1065.9" rx="4.6" ry="5.2"/>
<circle cx="119.0" cy="1066.9" r="4.9"/><path d="M125.8 1066.9L119.0 1071.8L119.0 1062.0Z"/>
<path d="M121.4 1060.4h6.2v2.4h2.4v6.2h-2.4v2.4h-6.2v-2.4h-2.4v-6.2h2.4Z"/>
<rect x="124.9" y="1060.5" width="9.4" height="9.4"/>
<rect x="97.9" y="1066.5" width="9.4" height="9.4"/>
<circle cx="108.3" cy="1070.7" r="4.9"/><path d="M101.5 1070.7L108.3 1065.8L108.3 1075.6Z"/>
<ellipse cx="113.6" cy="1069.6" rx="4.6" ry="5.2"/>
<circle cx="117.8" cy="1069.5" r="4.9"/><path d="M117.8 1076.3L112.9 1069.5L122.7 1069.5Z"/>
<path d="M120.1 1064.7h6.2v2.4h2.4v6.2h-2.4v2.4h-6.2v-2.4h-2.4v-6.2h2.4Z"/>
<ellipse cx="95.7" cy="1075.4" rx="4.6" ry="5.2"/>
<rect x="96.1" y="1070.6" width="9.4" height="9.4"/>
<circle cx="105.4" cy="1073.4" r="4.9"/><path d="M105.4 1080.2L100.5 1073.4L110.3 1073.4Z"/>
<ellipse cx="111.3" cy="1074.9" rx="4.6" ry="5.2"/>
<circle cx="114.3" cy="1074.6" r="4.9"/><path d="M121.1 1074.6L114.3 1079.5L114.3 1069.7Z"/>
<ellipse cx="120.6" cy="1075.2" rx="4.6" ry="5.2"/>
<circle cx="87.6" cy="1079.0" r="4.9"/><path d="M87.6 1072.2L92.5 1079.0L82.7 1079.0Z"/>
<ellipse cx="93.6" cy="1079.7" rx="4.6" ry="5.2"/>
<rect x="92.9" y="1074.4" width="9.4" height="9.4"/>
<rect x="97.6" y="1075.1" width="9.4" height="9.4"/>
<ellipse cx="107.8" cy="1079.2" rx="4.6" ry="5.2"/>
<path d="M109.9 1073.3h6.2v2.4h2.4v6.2h-2.4v2.4h-6.2v-2.4h-2.4v-6.2h2.4Z"/>
<rect x="113.1" y="1073.6" width="9.4" height="9.4"/>
<path d="M83.1 1078.3h6.2v2.4h2.4v6.2h-2.4v2.4h-6.2v-2.4h-2.4v-6.2h2.4Z"/>
<ellipse cx="89.3" cy="1083.3" rx="4.6" ry="5.2"/>
<path d="M92.7 1077.8h6.2v2.4h2.4v6.2h-2.4v2.4h-6.2v-2.4h-2.4v-6.2h2.4Z"/>
<circle cx="99.6" cy="1084.1" r="4.9"/><path d="M106.4 1084.1L99.6 1089.0L99.6 1079.2Z"/>
<path d="M101.3 1077.0h6.2v2.4h2.4v6.2h-2.4v2.4h-6.2v-2.4h-2.4v-6.2h2.4Z"/>
<circle cx="109.6" cy="1084.4" r="4.9"/><path d="M109.6 1077.6L114.5 1084.4L104.7 1084.4Z"/>
<rect x="110.1" y="1078.9" width="9.4" height="9.4"/>
<circle cx="86.9" cy="1087.0" r="4.9"/><path d="M86.9 1093.8L82.0 1087.0L91.8 1087.0Z"/>
<path d="M90.0 1081.5h6.2v2.4h2.4v6.2h-2.4v2.4h-6.2v-2.4h-2.4v-6.2h2.4Z"/>
<path d="M94.8 1083.1h6.2v2.4h2.4v6.2h-2.4v2.4h-6.2v-2.4h-2.4v-6.2h2.4Z"/>
<circle cx="102.5" cy="1088.4" r="4.9"/><path d="M95.7 1088.4L102.5 1083.5L102.5 1093.3Z"/>
<circle cx="106.6" cy="1088.0" r="4.9"/><path d="M113.4 1088.0L106.6 1092.9L106.6 1083.1Z"/>
<path d="M82.5 1086.5h6.2v2.4h2.4v6.2h-2.4v2.4h-6.2v-2.4h-2.4v-6.2h2.4Z"/>
<path d="M86.4 1087.1h6.2v2.4h2.4v6.2h-2.4v2.4h-6.2v-2.4h-2.4v-6.2h2.4Z"/>
<path d="M91.9 1087.4h6.2v2.4h2.4v6.2h-2.4v2.4h-6.2v-2.4h-2.4v-6.2h2.4Z"/>
<ellipse cx="100.6" cy="1091.8" rx="4.6" ry="5.2"/>
<rect x="100.6" y="1086.7" width="9.4" height="9.4"/>
</g>
<text class="lb" font-size="27.3" transform="translate(21.2,1147.7) rotate(-90)"><tspan x="-1.8">Individual</tspan><tspan x="128.4"> predicted</tspan><tspan x="262.5"> concentration</tspan></text>
<text class="lb" font-size="28.1" transform="translate(21.2,1147.7) rotate(-90) scale(1,1.05)"><tspan x="457.4">(µg/mL</tspan><tspan x="551.1">)</tspan></text>
<text class="lb" font-size="27.75" transform="translate(0,1177.9) scale(1,0.95)"><tspan x="223.2">Observed concentration</tspan><tspan x="539.4"> (</tspan><tspan x="559.6">µg/mL</tspan><tspan x="644.6">)</tspan></text>
</svg></body></html>
